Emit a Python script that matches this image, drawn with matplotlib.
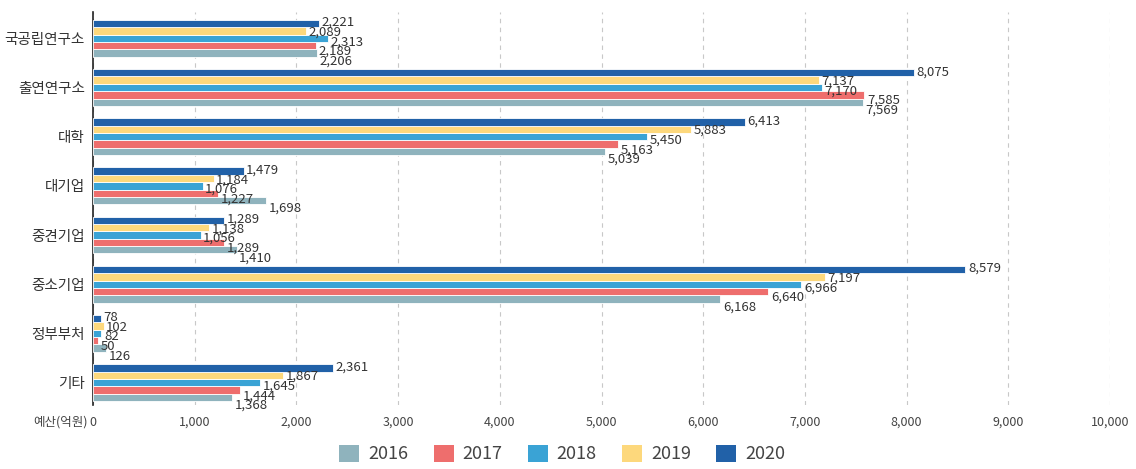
import numpy as np
import matplotlib.pyplot as plt
from matplotlib.patches import Patch

plt.rcParams['font.family'] = ['Noto Sans CJK KR', 'DejaVu Sans']

# Data
categories = ['국공립연구소', '출연연구소', '대학', '대기업', '중견기업', '중소기업', '정부부처', '기타']
years = ['2016', '2017', '2018', '2019', '2020']
v2016 = [2206, 7569, 5039, 1698, 1410, 6168, 126, 1368]
v2017 = [2189, 7585, 5163, 1227, 1289, 6640, 50, 1444]
v2018 = [2313, 7170, 5450, 1076, 1056, 6966, 82, 1645]
v2019 = [2089, 7137, 5883, 1184, 1138, 7197, 102, 1867]
v2020 = [2221, 8075, 6413, 1479, 1289, 8579, 78, 2361]
series = [v2016, v2017, v2018, v2019, v2020]
colors = ['#8fb3bd', '#ee6e6d', '#3aa3d5', '#fdd87c', '#2161a8']

fig = plt.figure(figsize=(11.36, 4.69), dpi=100)
ax = fig.add_axes([0.082, 0.137, 0.895, 0.837])

y = np.arange(len(categories))
h = 0.15
for i, (vals, c) in enumerate(zip(series, colors)):
    # 2020 on top, 2016 at bottom of each group
    off = (2 - i) * h
    ypos = y + off
    ax.barh(ypos, vals, height=h, color=c, edgecolor='white', linewidth=0.6, zorder=3)
    for yy, v in zip(ypos, vals):
        ly = yy + off * 0.3 + 0.07
        ax.text(v + 25, ly, f'{v:,}', ha='left', va='center', fontsize=9.5,
                color='#333333', zorder=4)

ax.set_ylim(7.45, -0.53)
ax.set_xlim(0, 10000)
ax.set_yticks(y)
ax.set_yticklabels(categories, fontsize=10.5, color='#333333')
ax.set_xticks(np.arange(0, 10001, 1000))
ax.set_xticklabels([f'{t:,}' for t in range(0, 10001, 1000)], fontsize=9, color='#444444')
ax.tick_params(axis='both', length=0)
ax.tick_params(axis='x', pad=8)
ax.tick_params(axis='y', pad=6)
ax.grid(axis='x', linestyle=(0, (4, 4)), color='#c8c8c8', linewidth=0.8, zorder=0)
for s in ['top', 'right', 'bottom']:
    ax.spines[s].set_visible(False)
ax.spines['left'].set_color('#222222')
ax.spines['left'].set_linewidth(1.2)

fig.text(0.077, 0.1, '예산(억원)', ha='right', va='center', fontsize=9, color='#444444')

handles = [Patch(facecolor=c, label=yr) for c, yr in zip(colors, years)]
leg = fig.legend(handles=handles, loc='center', bbox_to_anchor=(0.495, 0.032), ncol=5,
                 frameon=False, fontsize=13, handlelength=1.1, handleheight=1.1,
                 columnspacing=1.4, handletextpad=0.5)
for t in leg.get_texts():
    t.set_color('#444444')

fig.savefig('out.png', dpi=100)
